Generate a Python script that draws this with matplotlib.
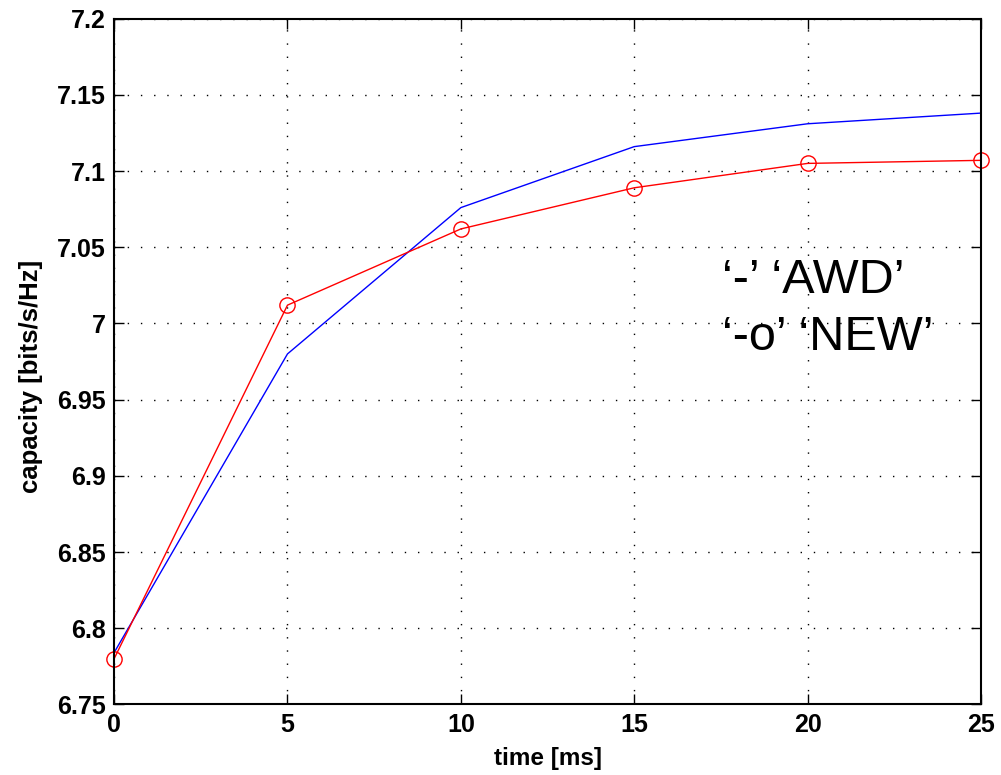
import numpy as np
import matplotlib
matplotlib.use('Agg')
import matplotlib.pyplot as plt

plt.rcParams['font.family'] = ['Liberation Sans', 'DejaVu Sans']

# data
t = [0, 5, 10, 15, 20, 25]
awd = [6.784, 6.980, 7.076, 7.116, 7.131, 7.138]
new = [6.780, 7.012, 7.062, 7.089, 7.105, 7.107]
xticks = [0, 5, 10, 15, 20, 25]
yticks = [6.75, 6.8, 6.85, 6.9, 6.95, 7, 7.05, 7.1, 7.15, 7.2]
yticklabels = ['6.75', '6.8', '6.85', '6.9', '6.95', '7', '7.05', '7.1', '7.15', '7.2']

fig = plt.figure(figsize=(10.01, 7.75), dpi=100)
ax = fig.add_axes([0.114, 0.091, 0.866, 0.885])

ax.plot(t, awd, '-', color='blue', lw=1.0)
ax.plot(t, new, '-o', color='red', lw=1.0, mfc='none', mec='red', ms=11, mew=1.0, clip_on=False)

ax.set_xlim(0, 25)
ax.set_ylim(6.75, 7.2)
ax.set_xticks(xticks)
ax.set_yticks(yticks)
ax.set_yticklabels(yticklabels)
ax.tick_params(direction='in', length=7, width=1, top=True, right=True, labelsize=18, pad=6)
for lab in ax.get_xticklabels() + ax.get_yticklabels():
    lab.set_fontweight('bold')
ax.grid(True, color='black', ls=(0, (1, 8.5)), lw=1.0)
for s in ax.spines.values():
    s.set_linewidth(1.5)

ax.set_xlabel('time [ms]', fontsize=17.5, fontweight='bold')
ax.xaxis.set_label_coords(0.5, -0.062, transform=ax.transAxes)
ax.set_ylabel('capacity [bits/s/Hz]', fontsize=18.5, fontweight='bold')
ax.yaxis.set_label_coords(-0.096, 0.479, transform=ax.transAxes)
ax.xaxis.label.set_va('top')
ax.yaxis.label.set_va('center')

ax.text(17.54, 7.0197, '\u2018-\u2019 \u2018AWD\u2019', fontsize=35, va='baseline', ha='left')
ax.text(17.54, 6.9823, '\u2018-o\u2019 \u2018NEW\u2019', fontsize=35, va='baseline', ha='left')

fig.savefig('out.png', dpi=100)
